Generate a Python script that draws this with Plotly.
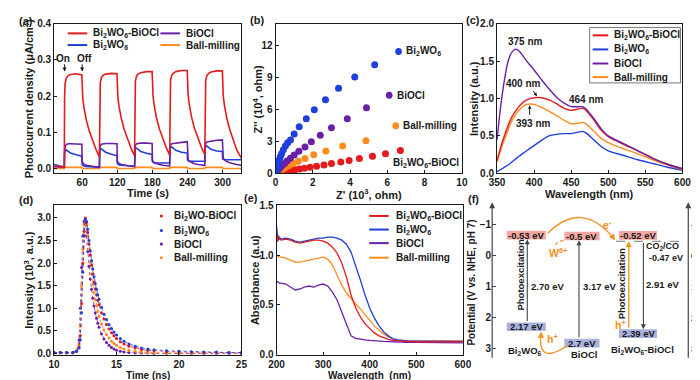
import plotly.graph_objects as go

W, H = 700, 380
def px(x): return x / W
def py(y): return 1 - y / H

RED = '#e41a1c'; BLUE = '#1f3fdc'; PURPLE = '#6a1fa8'; ORANGE = '#ff8c1a'
FONT = 'Liberation Sans, Arial, sans-serif'
INK = '#1a1a1a'

# ---------------- data ----------------
LBL_BB = 'Bi<sub>2</sub>WO<sub>6</sub>-BiOCl'
LBL_BW = 'Bi<sub>2</sub>WO<sub>6</sub>'
LBL_BO = 'BiOCl'
LBL_BM = 'Ball-milling'

# (a) photocurrent
T_A = [12, 29.5,
       30, 31, 33, 36, 40, 50, 59.5, 60, 61, 63, 67, 72, 78, 84, 89.5,
       90, 91, 93, 96, 100, 110, 119.5, 120, 121, 123, 127, 132, 138, 144, 149.5,
       150, 151, 153, 156, 160, 170, 179.5, 180, 181, 183, 187, 192, 198, 204, 209.5,
       210, 211, 213, 216, 220, 230, 239.5, 240, 241, 243, 247, 252, 258, 264, 269.5,
       270, 271, 273, 276, 280, 290, 299.5, 300, 301, 303, 307, 312, 318, 324, 332]
A_BB = [0.008, 0.005,
        0.200, 0.236, 0.250, 0.257, 0.260, 0.262, 0.259, 0.215, 0.195, 0.170, 0.135, 0.105, 0.078, 0.052, 0.033,
        0.205, 0.238, 0.252, 0.258, 0.261, 0.263, 0.262, 0.220, 0.198, 0.172, 0.138, 0.108, 0.080, 0.055, 0.036,
        0.210, 0.242, 0.256, 0.262, 0.265, 0.268, 0.268, 0.225, 0.202, 0.175, 0.140, 0.110, 0.082, 0.057, 0.038,
        0.212, 0.245, 0.258, 0.264, 0.268, 0.271, 0.271, 0.228, 0.204, 0.177, 0.142, 0.111, 0.083, 0.058, 0.039,
        0.212, 0.244, 0.257, 0.263, 0.267, 0.270, 0.270, 0.226, 0.202, 0.175, 0.140, 0.109, 0.080, 0.052, 0.030]
A_BO = [0.006, 0.004,
        0.050, 0.062, 0.067, 0.069, 0.069, 0.069, 0.068, 0.020, 0.016, 0.013, 0.010, 0.008, 0.007, 0.006, 0.005,
        0.055, 0.064, 0.068, 0.069, 0.070, 0.070, 0.069, 0.022, 0.018, 0.015, 0.012, 0.010, 0.008, 0.007, 0.006,
        0.056, 0.065, 0.069, 0.070, 0.071, 0.071, 0.070, 0.025, 0.020, 0.017, 0.014, 0.012, 0.010, 0.009, 0.008,
        0.057, 0.066, 0.069, 0.070, 0.071, 0.073, 0.075, 0.030, 0.025, 0.021, 0.017, 0.014, 0.012, 0.011, 0.010,
        0.060, 0.070, 0.074, 0.075, 0.077, 0.079, 0.080, 0.035, 0.030, 0.025, 0.020, 0.017, 0.014, 0.012, 0.010]
A_BW = [0.012, 0.005,
        0.042, 0.053, 0.052, 0.048, 0.044, 0.039, 0.035, 0.012, 0.010, 0.008, 0.007, 0.006, 0.005, 0.005, 0.004,
        0.045, 0.056, 0.055, 0.050, 0.046, 0.040, 0.036, 0.015, 0.013, 0.011, 0.010, 0.009, 0.008, 0.008, 0.008,
        0.048, 0.058, 0.057, 0.052, 0.048, 0.043, 0.040, 0.020, 0.018, 0.017, 0.016, 0.016, 0.016, 0.016, 0.016,
        0.050, 0.061, 0.060, 0.055, 0.051, 0.046, 0.044, 0.024, 0.022, 0.021, 0.021, 0.021, 0.021, 0.021, 0.021,
        0.053, 0.064, 0.063, 0.058, 0.054, 0.049, 0.048, 0.027, 0.026, 0.025, 0.025, 0.025, 0.025, 0.025, 0.025]
A_BM = [0.001, 0.001,
        0.004, 0.004, 0.004, 0.004, 0.004, 0.004, 0.004, 0.001, 0.001, 0.001, 0.001, 0.001, 0.001, 0.001, 0.001,
        0.004, 0.004, 0.004, 0.004, 0.004, 0.004, 0.004, 0.001, 0.001, 0.001, 0.001, 0.001, 0.001, 0.001, 0.001,
        0.004, 0.004, 0.004, 0.004, 0.004, 0.004, 0.004, 0.001, 0.001, 0.001, 0.001, 0.001, 0.001, 0.001, 0.001,
        0.004, 0.004, 0.004, 0.004, 0.004, 0.004, 0.004, 0.001, 0.001, 0.001, 0.001, 0.001, 0.001, 0.001, 0.001,
        0.004, 0.004, 0.004, 0.004, 0.004, 0.004, 0.004, 0.001, 0.001, 0.001, 0.001, 0.001, 0.001, 0.001, 0.001]

# (b) Nyquist  Z' (10^3 ohm), Z'' (10^4 ohm)
B_BW_X = [0.02, 0.05, 0.08, 0.12, 0.16, 0.20, 0.26, 0.33, 0.42, 0.53, 0.65, 0.80, 1.00, 1.27, 1.65, 2.08, 2.68, 3.38, 4.25, 5.32]
B_BW_Y = [0.10, 0.30, 0.50, 0.75, 1.00, 1.25, 1.55, 1.85, 2.20, 2.55, 2.85, 3.10, 3.68, 4.35, 5.10, 5.95, 6.88, 7.95, 9.00, 10.15]
B_BO_X = [0.03, 0.07, 0.12, 0.18, 0.26, 0.36, 0.48, 0.62, 0.80, 1.00, 1.25, 1.58, 1.92, 2.40, 3.00, 3.85, 4.88]
B_BO_Y = [0.08, 0.16, 0.27, 0.40, 0.55, 0.72, 0.92, 1.15, 1.40, 1.70, 2.05, 2.45, 2.95, 3.55, 4.25, 5.10, 6.12]
B_BM_X = [0.04, 0.10, 0.18, 0.28, 0.40, 0.54, 0.72, 0.95, 1.22, 1.58, 2.05, 2.70, 3.60, 4.85]
B_BM_Y = [0.06, 0.13, 0.22, 0.32, 0.43, 0.56, 0.72, 0.90, 1.12, 1.38, 1.72, 2.08, 2.55, 3.05]
B_BB_X = [0.04, 0.13, 0.24, 0.36, 0.50, 0.66, 0.85, 1.05, 1.28, 1.55, 1.85, 2.20, 2.60, 3.00, 3.50, 3.95, 4.50, 5.20, 5.90, 6.70]
B_BB_Y = [0.02, 0.05, 0.08, 0.12, 0.16, 0.21, 0.26, 0.32, 0.39, 0.47, 0.56, 0.66, 0.78, 0.90, 1.05, 1.20, 1.38, 1.60, 1.83, 2.12]

# (c) PL
C_WL = [350, 355, 360, 365, 370, 375, 380, 390, 400, 410, 420, 430, 440, 450, 460, 465, 470, 480, 490, 500, 520, 540, 560, 580, 600]
C_BO = [0.45, 0.90, 1.25, 1.50, 1.62, 1.66, 1.63, 1.50, 1.38, 1.25, 1.13, 1.02, 0.94, 0.89, 0.89, 0.89, 0.86, 0.74, 0.60, 0.50, 0.40, 0.30, 0.20, 0.12, 0.06]
C_BB = [0.17, 0.35, 0.50, 0.64, 0.75, 0.83, 0.90, 0.98, 1.01, 1.01, 0.98, 0.93, 0.87, 0.84, 0.86, 0.87, 0.84, 0.72, 0.58, 0.49, 0.39, 0.30, 0.20, 0.12, 0.06]
C_BM = [0.15, 0.31, 0.45, 0.58, 0.70, 0.78, 0.85, 0.92, 0.92, 0.88, 0.83, 0.77, 0.71, 0.66, 0.67, 0.68, 0.66, 0.57, 0.47, 0.41, 0.33, 0.26, 0.18, 0.11, 0.05]
C_BW = [0.02, 0.05, 0.08, 0.11, 0.15, 0.19, 0.23, 0.30, 0.37, 0.44, 0.50, 0.52, 0.53, 0.53, 0.55, 0.56, 0.54, 0.45, 0.36, 0.30, 0.24, 0.18, 0.13, 0.08, 0.04]

# (d) TRPL (10^3 a.u.)
D_T = [10.0, 10.5, 11.0, 11.5, 11.8, 12.0, 12.1, 12.2, 12.3, 12.4, 12.5, 12.6, 12.7, 12.8, 12.9, 13.0, 13.1, 13.2,
       13.3, 13.4, 13.5, 13.6, 13.8, 14.0, 14.2, 14.4, 14.6, 14.8, 15.0, 15.3, 15.6, 16.0, 16.5, 17.0, 17.5, 18.0,
       19.0, 20.0, 21.0, 22.0, 23.0, 24.0, 25.0]
D_BW = [0.02, 0.02, 0.02, 0.02, 0.05, 0.12, 0.3, 0.9, 1.8, 2.6, 2.97, 2.92, 2.75, 2.5, 2.27, 2.06, 1.87, 1.7, 1.55, 1.42,
        1.3, 1.2, 1.02, 0.87, 0.75, 0.64, 0.55, 0.47, 0.41, 0.33, 0.27, 0.21, 0.16, 0.12, 0.1, 0.08, 0.06, 0.05, 0.04,
        0.03, 0.03, 0.02, 0.02]
D_BB = [0.02, 0.02, 0.02, 0.02, 0.05, 0.15, 0.4, 1.1, 2.0, 2.7, 3.0, 2.9, 2.68, 2.42, 2.18, 1.96, 1.76, 1.58, 1.43, 1.3,
        1.18, 1.08, 0.9, 0.76, 0.64, 0.54, 0.46, 0.39, 0.33, 0.26, 0.21, 0.16, 0.12, 0.09, 0.07, 0.06, 0.04, 0.03, 0.03,
        0.02, 0.02, 0.02, 0.01]
D_BM = [0.02, 0.02, 0.02, 0.02, 0.06, 0.2, 0.6, 1.5, 2.3, 2.85, 2.98, 2.85, 2.6, 2.3, 2.02, 1.76, 1.54, 1.35, 1.19, 1.05,
        0.93, 0.82, 0.65, 0.52, 0.42, 0.34, 0.27, 0.22, 0.18, 0.13, 0.1, 0.07, 0.05, 0.03, 0.02, 0.02, 0.01, 0.01, 0.01,
        0.01, 0.01, 0.01, 0.01]
D_BO = [0.01, 0.01, 0.01, 0.01, 0.05, 0.3, 1.0, 1.9, 2.6, 2.92, 2.88, 2.6, 2.25, 1.93, 1.65, 1.42, 1.22, 1.05, 0.9, 0.78,
        0.67, 0.58, 0.43, 0.32, 0.24, 0.18, 0.13, 0.1, 0.07, 0.05, 0.03, 0.02, 0.01, 0.01, 0.01, 0.0, 0.0, 0.0, 0.0,
        0.0, 0.0, 0.0, 0.0]

# (e) UV-vis absorbance
E_WL = [200, 203, 206, 210, 220, 230, 240, 250, 260, 270, 280, 290, 300, 310, 320, 330, 340, 350, 360, 370, 380, 390,
        400, 410, 420, 430, 440, 450, 460, 480, 500, 550, 600]
E_BB = [1.12, 1.20, 1.16, 1.15, 1.16, 1.15, 1.13, 1.12, 1.13, 1.14, 1.15, 1.15, 1.14, 1.12, 1.08, 1.02, 0.92, 0.78, 0.60,
        0.47, 0.38, 0.31, 0.26, 0.22, 0.19, 0.17, 0.155, 0.145, 0.14, 0.135, 0.13, 0.13, 0.13]
E_BW = [1.30, 1.14, 1.18, 1.16, 1.17, 1.16, 1.14, 1.13, 1.14, 1.15, 1.16, 1.17, 1.17, 1.18, 1.18, 1.17, 1.15, 1.11, 1.03,
        0.90, 0.75, 0.60, 0.47, 0.37, 0.29, 0.23, 0.19, 0.16, 0.15, 0.14, 0.14, 0.135, 0.135]
E_BO = [0.74, 0.73, 0.72, 0.72, 0.71, 0.68, 0.65, 0.66, 0.68, 0.69, 0.68, 0.70, 0.71, 0.69, 0.63, 0.55, 0.43, 0.29, 0.19,
        0.165, 0.155, 0.15, 0.145, 0.14, 0.137, 0.135, 0.133, 0.13, 0.128, 0.126, 0.125, 0.122, 0.12]
E_BM = [1.00, 0.99, 0.98, 0.98, 0.97, 0.95, 0.93, 0.93, 0.94, 0.95, 0.96, 0.97, 0.98, 0.96, 0.90, 0.80, 0.70, 0.62, 0.56,
        0.51, 0.46, 0.40, 0.34, 0.29, 0.25, 0.21, 0.18, 0.16, 0.15, 0.14, 0.14, 0.14, 0.14]

# (f) band structure
F_NAMES = [LBL_BW, LBL_BO, LBL_BB]
F_CB = [-0.53, -0.5, -0.52]
F_VB = [2.17, 2.7, 2.39]
F_GAP = ['2.70 eV', '3.17 eV', '2.91 eV']
F_REDOX = -0.47
F_TICKS = [-1, 0, 1, 2, 3]
F_RANGE = [3.22, -1.64]

# ---------------- figure ----------------
fig = go.Figure()
shapes, anns = [], []

def axis(dom, rng, tickvals=None, fmt=None, **kw):
    d = dict(domain=dom, range=rng, showline=True, linecolor=INK, linewidth=1, mirror=True,
             ticks='inside', ticklen=3, tickwidth=1, tickcolor=INK, showgrid=False, zeroline=False,
             tickfont=dict(family=FONT, size=10, color=INK, weight='bold'), fixedrange=True)
    if tickvals is not None:
        d['tickvals'] = tickvals
    if fmt:
        d['tickformat'] = fmt
    d.update(kw)
    return d

def text(x, y, s, size=10, color=INK, xanchor='left', yanchor='middle', angle=0, pad=1):
    anns.append(dict(x=px(x), y=py(y), xref='paper', yref='paper', text=s, showarrow=False,
                     font=dict(family=FONT, size=size, color=color, weight='bold'), borderpad=pad,
                     xanchor=xanchor, yanchor=yanchor, textangle=angle))

def hline(x0, x1, y, color, width=2):
    shapes.append(dict(type='line', xref='paper', yref='paper', x0=px(x0), x1=px(x1), y0=py(y), y1=py(y),
                       line=dict(color=color, width=width)))

def dot(x, y, color, r=3.5):
    shapes.append(dict(type='circle', xref='paper', yref='paper', x0=px(x - r), x1=px(x + r),
                       y0=py(y + r), y1=py(y - r), fillcolor=color, line=dict(width=0)))

ROW1 = [py(165), py(11)]
ROW2 = [py(352), py(198)]

# (a)
for ys, c in [(A_BM, ORANGE), (A_BW, BLUE), (A_BO, PURPLE), (A_BB, RED)]:
    fig.add_trace(go.Scatter(x=T_A, y=ys, mode='lines', line=dict(color=c, width=1.6), xaxis='x', yaxis='y'))
# (b)
for xs, ys, c in [(B_BB_X, B_BB_Y, RED), (B_BM_X, B_BM_Y, ORANGE), (B_BO_X, B_BO_Y, PURPLE), (B_BW_X, B_BW_Y, BLUE)]:
    fig.add_trace(go.Scatter(x=xs, y=ys, mode='markers', marker=dict(color=c, size=7), xaxis='x2', yaxis='y2'))
# (c)
for ys, c in [(C_BW, BLUE), (C_BM, ORANGE), (C_BB, RED), (C_BO, PURPLE)]:
    fig.add_trace(go.Scatter(x=C_WL, y=ys, mode='lines', line=dict(color=c, width=1.4, shape='spline', smoothing=0.6),
                             xaxis='x3', yaxis='y3'))
# (d)
for ys, c in [(D_BO, PURPLE), (D_BM, ORANGE), (D_BB, RED), (D_BW, BLUE)]:
    fig.add_trace(go.Scatter(x=D_T, y=ys, mode='lines+markers', line=dict(color=c, width=0.8, dash='dot'),
                             marker=dict(color=c, size=3), xaxis='x4', yaxis='y4'))
# (e)
for ys, c in [(E_BM, ORANGE), (E_BO, PURPLE), (E_BW, BLUE), (E_BB, RED)]:
    fig.add_trace(go.Scatter(x=E_WL, y=ys, mode='lines', line=dict(color=c, width=1.3), xaxis='x5', yaxis='y5'))

# ---- legends / labels
# (a)
hline(53, 73, 21, RED); text(77, 21, LBL_BB)
hline(148, 168, 21, PURPLE); text(172, 21, LBL_BO)
hline(53, 73, 33, BLUE); text(77, 33, LBL_BW)
hline(148, 168, 33, ORANGE); text(172, 33, LBL_BM)
for t, lab, tx in [(30, 'On', 28), (60, 'Off', 64)]:
    anns.append(dict(x=t, y=0.268, xref='x', yref='y', ax=t, ay=0.292, axref='x', ayref='y', text='',
                     showarrow=True, arrowhead=2, arrowsize=0.8, arrowwidth=1, arrowcolor=INK))
    anns.append(dict(x=tx, y=0.305, xref='x', yref='y', text=lab, showarrow=False,
                     font=dict(family=FONT, size=10, color=INK, weight='bold')))
# (b)
for (mx, my, c, lab) in [(6.6, 11.4, BLUE, LBL_BW), (6.1, 7.3, PURPLE, LBL_BO), (6.45, 4.45, ORANGE, LBL_BM)]:
    anns.append(dict(x=mx + 0.3, y=my, xref='x2', yref='y2', text=lab, showarrow=False, xanchor='left',
                     font=dict(family=FONT, size=10, color=INK, weight='bold')))
    shapes.append(dict(type='circle', xref='x2', yref='y2', x0=mx - 0.18, x1=mx + 0.18, y0=my - 0.33, y1=my + 0.33,
                       fillcolor=c, line=dict(width=0)))
anns.append(dict(x=8.05, y=1.0, xref='x2', yref='y2', text=LBL_BB, showarrow=False,
                 font=dict(family=FONT, size=10, color=INK, weight='bold')))
# (c)
shapes.append(dict(type='rect', xref='paper', yref='paper', x0=px(588), x1=px(681), y0=py(72), y1=py(15),
                   line=dict(color='#555', width=0.8)))
for yy, c, lab in [(23, RED, LBL_BB), (37.5, BLUE, LBL_BW), (52, PURPLE, LBL_BO), (66, ORANGE, LBL_BM)]:
    hline(591, 607, yy, c); text(611, yy, lab)
for (x, y, s) in [(389, 1.76, '375 nm'), (471, 0.99, '464 nm'), (386, 1.2, '400 nm'), (399, 0.67, '393 nm')]:
    anns.append(dict(x=x, y=y, xref='x3', yref='y3', text=s, showarrow=False,
                     font=dict(family=FONT, size=10, color=INK, weight='bold')))
anns.append(dict(x=404, y=1.03, ax=397, ay=1.12, xref='x3', yref='y3', axref='x3', ayref='y3', text='',
                 showarrow=True, arrowhead=2, arrowsize=0.7, arrowwidth=1, arrowcolor=INK))
anns.append(dict(x=394, y=0.91, ax=394, ay=0.76, xref='x3', yref='y3', axref='x3', ayref='y3', text='',
                 showarrow=True, arrowhead=2, arrowsize=0.7, arrowwidth=1, arrowcolor=INK))
# (d)
for yy, c, lab in [(209, RED, 'Bi<sub>2</sub>WO-BiOCl'), (224, BLUE, LBL_BW), (238, PURPLE, LBL_BO), (252, ORANGE, LBL_BM)]:
    dot(149, yy, c, r=1.6); text(160, yy, lab)
# (e)
for yy, c, lab in [(209, RED, LBL_BB), (223, BLUE, LBL_BW), (237, PURPLE, LBL_BO), (252, ORANGE, LBL_BM)]:
    hline(362, 382, yy, c); text(387, yy, lab)

# axis titles
text(13, 88, 'Photocurrent density (μA/cm<sup>2</sup>)', size=11, xanchor='center', angle=-90)
text(135, 185, 'Time (s)', size=11, xanchor='center')
text(248, 88, "Z'' (10<sup>4</sup>, ohm)", size=11, xanchor='center', angle=-90)
text(362, 186, "Z' (10<sup>3</sup>, ohm)", size=11, xanchor='center')
text(470, 88, 'Intensity (a.u.)', size=11, xanchor='center', angle=-90)
text(588, 186, 'Wavelength (nm)', size=11, xanchor='center')
text(13, 275, 'Intensity (10<sup>3</sup>, a.u.)', size=11, xanchor='center', angle=-90)
text(135, 380, 'Time (ns)', size=10, xanchor='center', yanchor='bottom', pad=0)
text(245, 275, 'Absorbance (a.u)', size=11, xanchor='center', angle=-90)
text(362, 380, 'Wavelength  (nm)', size=10, xanchor='center', yanchor='bottom', pad=0)
text(467, 278, 'Potential (V vs. NHE, pH 7)', size=10, xanchor='center', angle=-90)
# panel letters
for (x, y, s) in [(1, 8, '(a)'), (238, 7, '(b)'), (459, 7, '(c)'), (1, 193, '(d)'), (232, 191, '(e)'), (461, 192, '(f)')]:
    text(x, y, s, size=11)

# (f) schematic
COLX = [(503, 543), (562, 598), (618, 657)]
PINK, LAV = '#f3a7a1', '#a9b1dc'
BOXH = 0.28
for (x0, x1), cb, vb, name in zip(COLX, F_CB, F_VB, F_NAMES):
    shapes.append(dict(type='rect', xref='x6', yref='y6', x0=x0, x1=x1, y0=cb - BOXH, y1=cb, fillcolor=PINK,
                       line=dict(width=0)))
    shapes.append(dict(type='rect', xref='x6', yref='y6', x0=x0, x1=x1, y0=vb, y1=vb + BOXH, fillcolor=LAV,
                       line=dict(width=0)))
    anns.append(dict(x=(x0 + x1) / 2, y=cb - BOXH / 2, xref='x6', yref='y6', text=f'{cb} eV', showarrow=False,
                     font=dict(family=FONT, size=9.5, color=INK, weight='bold')))
    anns.append(dict(x=(x0 + x1) / 2, y=vb + BOXH / 2, xref='x6', yref='y6', text=f'{vb} eV', showarrow=False,
                     font=dict(family=FONT, size=9.5, color=INK, weight='bold')))

def farrow(x, y, axx, ayy, color='#444', w=1.1):
    anns.append(dict(x=x, y=y, ax=axx, ay=ayy, xref='x6', yref='y6', axref='x6', ayref='y6', text='',
                     showarrow=True, arrowhead=2, arrowsize=0.9, arrowwidth=w, arrowcolor=color))

def ftext(x, y, s, size=9.5, color=INK, angle=0, xanchor='center'):
    anns.append(dict(x=x, y=y, xref='x6', yref='y6', text=s, showarrow=False, textangle=angle, xanchor=xanchor,
                     font=dict(family=FONT, size=size, color=color, weight='bold')))

FOR = '#f39020'
farrow(524, F_CB[0], 524, F_VB[0])
farrow(577, F_CB[1], 577, F_VB[1])
farrow(628, F_REDOX, 628, F_VB[2], color=FOR, w=1.3)
farrow(643, F_VB[2], 643, F_REDOX)
shapes.append(dict(type='line', xref='x6', yref='y6', x0=615, x1=688, y0=F_REDOX, y1=F_REDOX,
                   line=dict(color='#777', width=1, dash='dash')))
ftext(545, 1.0, F_GAP[0]); ftext(598, 1.0, F_GAP[1]); ftext(663, 0.95, F_GAP[2])
ftext(517, 0.63, 'Photoexcitation', angle=-90); ftext(621, 0.9, 'Photoexcitation', angle=-90)
ftext(663, -0.29, 'CO<sub>2</sub>/CO', size=9); ftext(666, 0.07, f'{F_REDOX} eV', size=9)
ftext(606, -1.0, 'e<sup>-</sup>', color=FOR, size=10.5)
ftext(555, -0.1, 'W<sup>6+</sup>', color=FOR, size=10.5)
ftext(550, 2.7, 'h<sup>+</sup>', color=FOR, size=10.5)
ftext(620, 2.24, 'h<sup>+</sup>', color=FOR, size=10.5)
ftext(522, 3.09, F_NAMES[0]); ftext(582, 3.2, F_NAMES[1]); ftext(642, 3.06, F_NAMES[2])
# right-axis tick labels at the picture edge (paper coords so they are not hidden)
r_top, r_bot = 198, 352
for v in F_TICKS:
    ypix = r_top + (v - F_RANGE[1]) / (F_RANGE[0] - F_RANGE[1]) * (r_bot - r_top)
    text(691, ypix, str(v), size=9.5, xanchor='left', pad=0)
# curved arrows
shapes.append(dict(type='path', xref='x6', yref='y6', path='M 545,-0.73 Q 580,-1.84 613,-0.55',
                   line=dict(color=FOR, width=1.4)))
farrow(614, -0.5, 610, -0.68, color=FOR, w=1.4)
shapes.append(dict(type='path', xref='x6', yref='y6', path='M 561,-0.5 Q 553,-0.45 553,-0.32',
                   line=dict(color=FOR, width=1.2, dash='dot')))
farrow(553, -0.28, 553, -0.36, color=FOR, w=1.2)
shapes.append(dict(type='path', xref='x6', yref='y6', path='M 566,2.9 Q 534,3.6 538,2.52',
                   line=dict(color=FOR, width=1.4)))
farrow(538, 2.46, 538, 2.62, color=FOR, w=1.4)
# axis lines with arrow heads
for xp in (488, 689):
    anns.append(dict(x=px(xp), y=py(195), xref='paper', yref='paper', ax=0, ay=157, text='', showarrow=True,
                     arrowhead=2, arrowsize=1, arrowwidth=1.2, arrowcolor='#444'))

tick_f = dict(family=FONT, size=10, color=INK, weight='bold')
fig.update_layout(
    width=W, height=H, margin=dict(l=0, r=0, t=0, b=0), showlegend=False,
    paper_bgcolor='white', plot_bgcolor='white',
    font=dict(family=FONT, size=10, color=INK, weight='bold'),
    xaxis=axis([px(39), px(231)], [12, 332], [60, 120, 180, 240, 300], anchor='y'),
    yaxis=axis(ROW1, [-0.012, 0.4], [0, 0.1, 0.2, 0.3, 0.4], '.1f', anchor='x'),
    xaxis2=axis([px(266), px(457)], [0, 10], [0, 2, 4, 6, 8, 10], anchor='y2'),
    yaxis2=axis(ROW1, [0, 14], [0, 3, 6, 9, 12], anchor='x2'),
    xaxis3=axis([px(493), px(683)], [350, 600], [350, 400, 450, 500, 550, 600], anchor='y3'),
    yaxis3=axis(ROW1, [0, 2], [0, 0.5, 1.0, 1.5, 2.0], '.1f', anchor='x3'),
    xaxis4=axis([px(39), px(231)], [10, 25], [10, 15, 20, 25], anchor='y4'),
    yaxis4=axis(ROW2, [-0.03, 3.28], [0, 0.5, 1.0, 1.5, 2.0, 2.5, 3.0], '.1f', anchor='x4'),
    xaxis5=axis([px(267), px(458)], [200, 600], [200, 300, 400, 500, 600], anchor='y5'),
    yaxis5=axis(ROW2, [0, 1.5], [0, 0.5, 1.0, 1.5], '.1f', anchor='x5'),
    xaxis6=dict(domain=[px(488), px(689)], range=[488, 689], visible=False, anchor='y6', fixedrange=True),
    yaxis6=dict(domain=ROW2, range=F_RANGE, anchor='x6', showline=False, showgrid=False, zeroline=False,
                ticks='inside', ticklen=4, tickcolor='#444', tickvals=F_TICKS, tickfont=tick_f,
                fixedrange=True),
    yaxis7=dict(domain=ROW2, range=F_RANGE, anchor='x6', overlaying='y6', side='right', showline=False,
                showgrid=False, zeroline=False, ticks='inside', ticklen=4, tickcolor='#444',
                tickvals=F_TICKS, showticklabels=False, fixedrange=True),
    shapes=shapes, annotations=anns,
)
fig.write_html('out.html')
